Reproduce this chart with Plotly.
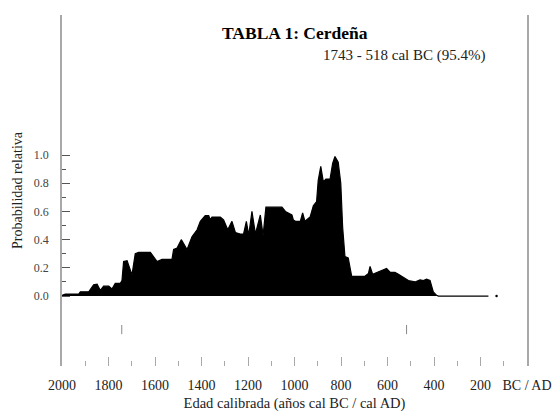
import plotly.graph_objects as go

# Calibrated age (years cal BC) and relative probability
years = [2000, 1986, 1928, 1921, 1885, 1878, 1864, 1849, 1835, 1821, 1799, 1785,
         1771, 1749, 1742, 1735, 1720, 1699, 1685, 1670, 1620, 1591, 1570, 1527,
         1520, 1505, 1487, 1462, 1441, 1419, 1405, 1384, 1369, 1362, 1355, 1319,
         1305, 1287, 1269, 1254, 1233, 1219, 1207, 1197, 1183, 1168, 1147, 1135,
         1123, 1111, 1054, 1039, 1011, 1005, 996, 975, 965, 955, 933, 919, 905,
         898, 887, 876, 865, 847, 836, 826, 812, 801, 793, 783, 769, 754, 733,
         697, 682, 675, 664, 639, 604, 589, 568, 553, 532, 510, 482, 460, 446,
         432, 417, 403, 389, 381, 166]
prob = [0.005, 0.014, 0.014, 0.03, 0.03, 0.05, 0.08, 0.085, 0.04, 0.07, 0.07, 0.05,
        0.09, 0.09, 0.11, 0.245, 0.25, 0.15, 0.30, 0.31, 0.31, 0.245, 0.26, 0.26,
        0.33, 0.34, 0.40, 0.33, 0.42, 0.47, 0.53, 0.57, 0.57, 0.54, 0.56, 0.56,
        0.54, 0.47, 0.53, 0.45, 0.44, 0.44, 0.53, 0.43, 0.60, 0.44, 0.575, 0.43,
        0.63, 0.63, 0.63, 0.60, 0.575, 0.54, 0.53, 0.53, 0.59, 0.53, 0.56, 0.64, 0.67,
        0.82, 0.92, 0.81, 0.83, 0.83, 0.94, 0.99, 0.95, 0.80, 0.49, 0.28, 0.27, 0.14, 0.14,
        0.14, 0.16, 0.21, 0.155, 0.17, 0.195, 0.17, 0.168, 0.155, 0.13, 0.11, 0.10, 0.115, 0.11,
        0.12, 0.11, 0.03, 0.005, 0.0, 0.0]

dot_year = [131]
dot_prob = [0.0]

range_bounds = [1743, 518]   # 95.4% range marks
range_mark_y = [-0.205, -0.27]

x_tickvals = [2000, 1800, 1600, 1400, 1200, 1000, 800, 600, 400, 200, 0]
x_ticktext = ["2000", "1800", "1600", "1400", "1200", "1000", "800", "600", "400", "200", "BC / AD"]
x_minor = [1900, 1700, 1500, 1300, 1100, 900, 700, 500, 300, 100]
y_tickvals = [0.0, 0.2, 0.4, 0.6, 0.8, 1.0]
y_ticktext = ["0.0", "0.2", "0.4", "0.6", "0.8", "1.0"]
y_minor = [0.1, 0.3, 0.5, 0.7, 0.9]

FONT = "Liberation Serif"
GRAY = "#a8a8a8"
TXT = "#222222"

fig = go.Figure()
fig.add_trace(go.Scatter(x=years, y=prob, mode="lines", fill="tozeroy",
                         fillcolor="black", line=dict(color="black", width=1.2),
                         hoverinfo="skip", showlegend=False))
fig.add_trace(go.Scatter(x=dot_year, y=dot_prob, mode="markers",
                         marker=dict(color="black", size=2.5), showlegend=False))
for b in range_bounds:
    fig.add_trace(go.Scatter(x=[b, b], y=range_mark_y, mode="lines",
                             line=dict(color="#888888", width=1), showlegend=False))

fig.update_layout(
    width=554, height=412,
    margin=dict(l=62, r=27, t=15, b=46, autoexpand=False),
    plot_bgcolor="white", paper_bgcolor="white",
    font=dict(family=FONT, size=14, color=TXT),
    showlegend=False,
    xaxis=dict(range=[2000, 0], showgrid=False, zeroline=False, showline=False,
               automargin=False,
               tickmode="array", tickvals=x_tickvals, ticktext=x_ticktext,
               ticks="inside", ticklen=9, tickwidth=1, tickcolor=GRAY,
               ticklabelstandoff=9,
               minor=dict(tickmode="array", tickvals=x_minor, ticks="inside",
                          ticklen=5, tickwidth=1, tickcolor=GRAY),
               tickfont=dict(family=FONT, size=14, color=TXT),
               title=dict(text="Edad calibrada (años cal BC / cal AD)",
                          font=dict(family=FONT, size=14.5, color=TXT), standoff=13)),
    yaxis=dict(range=[-0.496, 1.993], showgrid=False, zeroline=False,
               automargin=False,
               showline=True, mirror=True, linecolor=GRAY, linewidth=1.5,
               tickmode="array", tickvals=y_tickvals, ticktext=y_ticktext,
               ticks="inside", ticklen=8, tickwidth=1, tickcolor="#555555",
               ticklabelstandoff=9,
               minor=dict(tickmode="array", tickvals=y_minor, ticks="inside",
                          ticklen=4, tickwidth=1, tickcolor="#555555"),
               tickfont=dict(family=FONT, size=12, color="#444444"),
               title=dict(text="Probabilidad relativa",
                          font=dict(family=FONT, size=14, color=TXT), standoff=8)),
    annotations=[
        dict(text="<b>TABLA 1: Cerdeña</b>", xref="paper", yref="paper",
             x=0.5, y=(412 - 46 - 33) / (412 - 15 - 46), xanchor="center", yanchor="middle",
             showarrow=False, font=dict(size=17.5, color="black", family=FONT)),
        dict(text="1743 - 518 cal BC (95.4%)", xref="paper", yref="paper",
             x=(487 - 62) / 465, y=(412 - 46 - 55) / (412 - 15 - 46),
             xanchor="right", yanchor="middle",
             showarrow=False, font=dict(size=15, color=TXT, family=FONT)),
    ],
)

fig.write_html("out.html", config={"displayModeBar": False},
               post_script="document.body.style.margin='0';document.body.style.overflow='hidden';")
